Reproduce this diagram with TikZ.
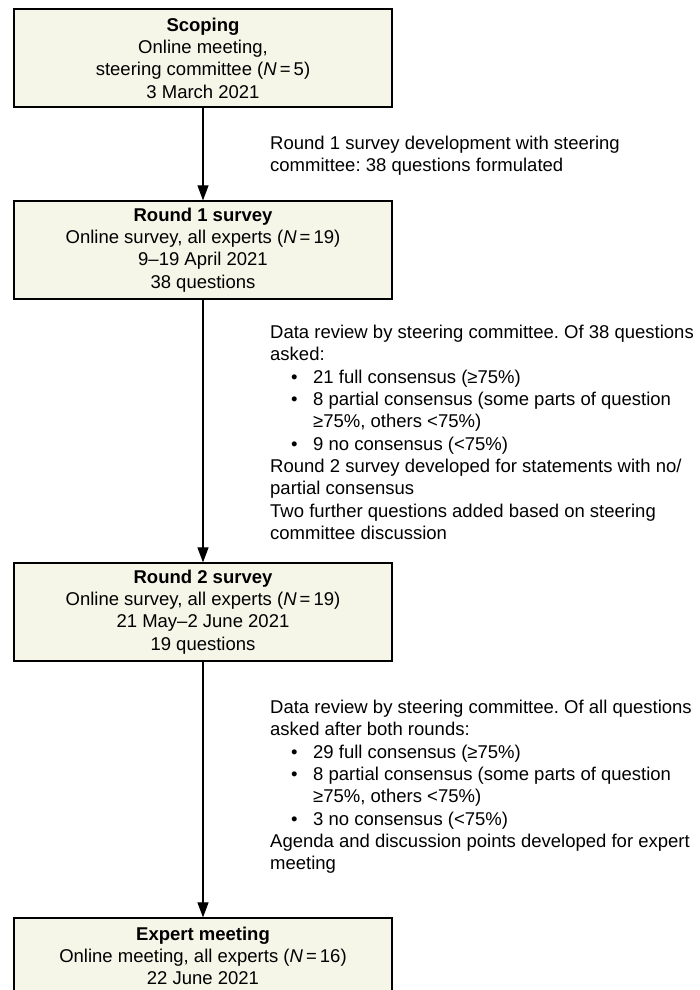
\documentclass[tikz,border=0pt]{standalone}
\usepackage{fontspec}
\setmainfont{Liberation Sans}
\usetikzlibrary{arrows.meta}
\definecolor{boxfill}{RGB}{245,245,232}
\newcommand{\bitem}{\hspace*{21pt}\makebox[22pt][l]{\textbullet}}
\newcommand{\bcont}{\hspace*{43pt}}
\frenchspacing

\begin{document}
\begin{tikzpicture}[x=1pt,y=-1pt,
	font=\fontsize{18.5}{22.3}\selectfont,
	stage/.style={draw, line width=1.2pt, fill=boxfill, minimum width=378pt, minimum height=98pt, align=center, inner sep=0pt},
	note/.style={anchor=north west, align=left, inner sep=0pt},
	flow/.style={line width=1.1pt, -{Triangle[length=15pt,width=11pt]}}]
	\useasboundingbox (0,0) rectangle (700,990);

	\node[stage] (scoping) at (203,58) {\textbf{Scoping}\\Online meeting,\\steering committee (\textit{N}\,=\,5)\\3 March 2021};
	\node[stage] (round1) at (203,250) {\textbf{Round 1 survey}\\Online survey, all experts (\textit{N}\,=\,19)\\9–19 April 2021\\38 questions};
	\node[stage] (round2) at (203,612) {\textbf{Round 2 survey}\\Online survey, all experts (\textit{N}\,=\,19)\\21 May–2 June 2021\\19 questions};
	\node[stage] (expert) at (203,967) {\textbf{Expert meeting}\\Online meeting, all experts (\textit{N}\,=\,16)\\22 June 2021\\\phantom{x}};

	\draw[flow] (scoping) -- (round1);
	\draw[flow] (round1) -- (round2);
	\draw[flow] (round2) -- (expert);

	\node[note] (devnote) at (270,136) {Round 1 survey development with steering\\committee: 38 questions formulated};
	\node[note] (review1) at (270,325) {Data review by steering committee. Of 38 questions\\asked:\\
		\bitem 21 full consensus (≥75\%)\\
		\bitem 8 partial consensus (some parts of question\\
		\bcont ≥75\%, others <75\%)\\
		\bitem 9 no consensus (<75\%)\\
		Round 2 survey developed for statements with no/\\partial consensus\\
		Two further questions added based on steering\\committee discussion};
	\node[note] (review2) at (270,700) {Data review by steering committee. Of all questions\\asked after both rounds:\\
		\bitem 29 full consensus (≥75\%)\\
		\bitem 8 partial consensus (some parts of question\\
		\bcont ≥75\%, others <75\%)\\
		\bitem 3 no consensus (<75\%)\\
		Agenda and discussion points developed for expert\\meeting};
\end{tikzpicture}
\end{document}
